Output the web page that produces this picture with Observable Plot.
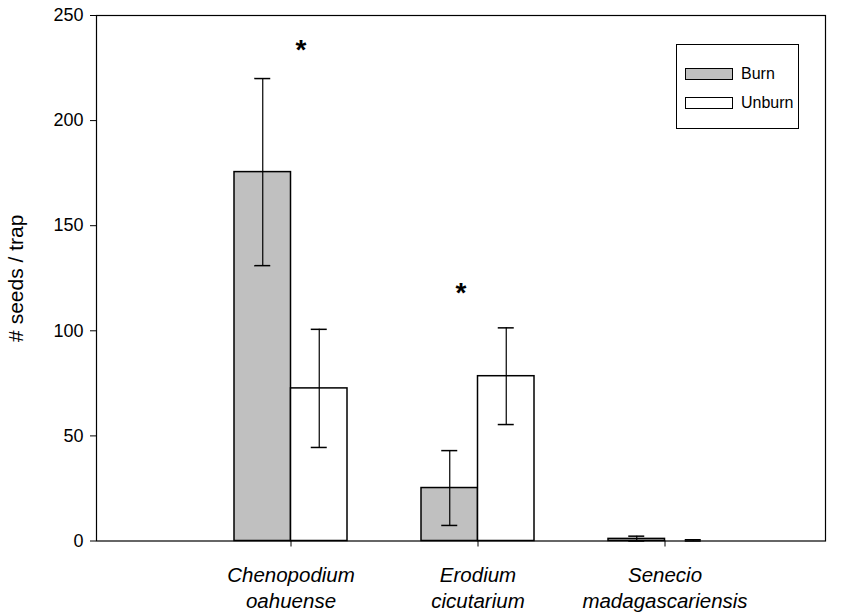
<!DOCTYPE html>
<html><head><meta charset="utf-8">
<script src="https://cdn.jsdelivr.net/npm/d3@7"></script>
<script src="https://cdn.jsdelivr.net/npm/@observablehq/plot@0.6"></script>
<style>
html,body{margin:0;padding:0;background:#fff;}
#wrap{position:relative;width:841px;height:615px;font-family:"Liberation Sans",Arial,sans-serif;}
#legend{position:absolute;left:676px;top:44px;width:123px;height:85px;border:1px solid #000;box-sizing:border-box;background:#fff;}
.item{position:absolute;left:8px;height:14px;display:flex;align-items:center;font-size:16px;color:#000;}
.sw{width:46px;height:10px;border:1.5px solid #000;margin-right:8px;}
</style></head><body><div id="wrap"></div>
<script>
const species = ["Chenopodium oahuense", "Erodium cicutarium", "Senecio madagascariensis"];
const xLabels = ["Chenopodium\noahuense", "Erodium\ncicutarium", "Senecio\nmadagascariensis"];
const treatments = ["Burn", "Unburn"];
const burnMean = [175.5, 25.2, 1.0];
const burnSE = [44.5, 17.8, 1.3];
const unburnMean = [72.6, 78.4, 0.0];
const unburnSE = [28.1, 23.0, 0.6];
const yTicks = [0, 50, 100, 150, 200, 250];
const starSpecies = ["Chenopodium oahuense", "Erodium cicutarium"];
const starY = [233.5, 118];
const colors = {Burn: "#c0c0c0", Unburn: "#ffffff"};

const burnRows = species.map((s, i) => ({species: s, treatment: "Burn", mean: burnMean[i], se: burnSE[i]}));
const unburnRows = species.map((s, i) => ({species: s, treatment: "Unburn", mean: unburnMean[i], se: unburnSE[i]}));
const stars = starSpecies.map((s, i) => ({species: s, y: starY[i]}));
const hi = d => d.mean + d.se;
const lo = d => Math.max(0, d.mean - d.se);

const errMarks = (rows, dx) => [
  Plot.ruleX(rows, {x: "species", y1: lo, y2: hi, dx, stroke: "#000", strokeWidth: 1.2}),
  Plot.tickY(rows, {x: "species", y: hi, dx, insetLeft: 85.5, insetRight: 85.5, stroke: "#000", strokeWidth: 1.5}),
  Plot.tickY(rows, {x: "species", y: lo, dx, insetLeft: 85.5, insetRight: 85.5, stroke: "#000", strokeWidth: 1.5})
];

const chart = Plot.plot({
  width: 841,
  height: 615,
  marginLeft: 96,
  marginRight: 16,
  marginTop: 15,
  marginBottom: 74.5,
  style: {fontFamily: "Liberation Sans, Arial, sans-serif", fontSize: "18px", background: "#fff", color: "#000"},
  x: {type: "band", domain: species, range: [196.5, 757.5], padding: 0, tickSize: 6, tickFormat: () => "", label: null},
  y: {domain: [0, 250], ticks: yTicks, tickSize: 6, tickPadding: 7, label: null},
  marks: [
    Plot.barY(burnRows, {x: "species", y: "mean", fill: colors.Burn, stroke: "#000", strokeWidth: 1.5, insetLeft: 37, insetRight: 93.5}),
    Plot.barY(unburnRows, {x: "species", y: "mean", fill: colors.Unburn, stroke: "#000", strokeWidth: 1.5, insetLeft: 93.5, insetRight: 37}),
    ...errMarks(burnRows, -28.25),
    ...errMarks(unburnRows, 28.25),
    Plot.text(stars, {x: "species", y: "y", text: () => "*", dx: 10, fontSize: 28, fontWeight: "bold", filter: d => d.species === starSpecies[0]}),
    Plot.text(stars, {x: "species", y: "y", text: () => "*", dx: -17, fontSize: 28, fontWeight: "bold", filter: d => d.species === starSpecies[1]}),
    Plot.text(species, {x: d => d, text: (d, i) => xLabels[i], frameAnchor: "bottom", dy: 23, lineAnchor: "top", lineHeight: 1.25, fontSize: 20.5, fontStyle: "italic"}),
    Plot.text(["# seeds / trap"], {frameAnchor: "left", textAnchor: "middle", dx: -80, rotate: -90, fontSize: 21}),
    Plot.frame({stroke: "#000", strokeWidth: 1.2})
  ]
});
const wrap = document.getElementById("wrap");
wrap.appendChild(chart);
const legend = document.createElement("div");
legend.id = "legend";
treatments.forEach((t, i) => {
  const it = document.createElement("div");
  it.className = "item";
  it.style.top = (22 + i * 29) + "px";
  const sw = document.createElement("div");
  sw.className = "sw";
  sw.style.background = colors[t];
  it.appendChild(sw);
  it.appendChild(document.createTextNode(t));
  legend.appendChild(it);
});
wrap.appendChild(legend);
</script></body></html>
